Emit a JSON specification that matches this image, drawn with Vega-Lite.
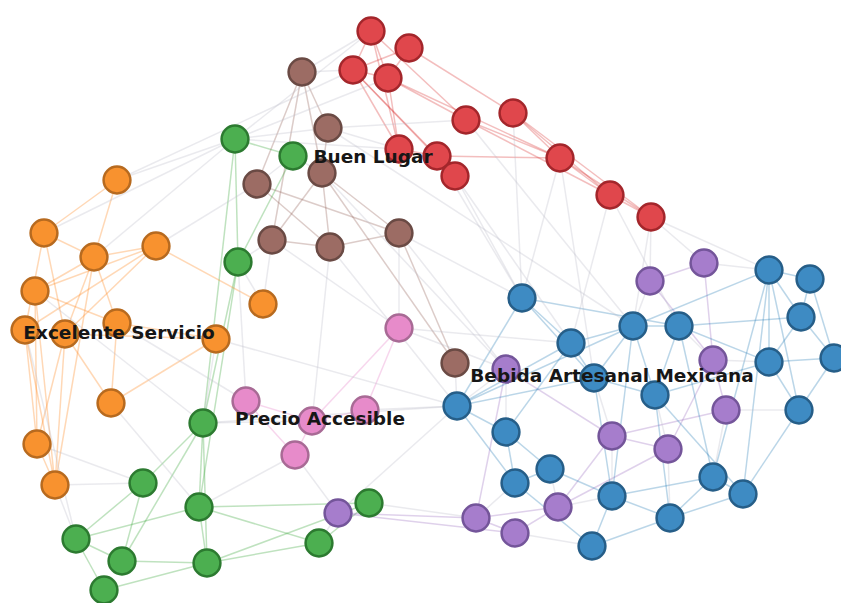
{
  "$schema": "https://vega.github.io/schema/vega-lite/v6.json",
  "autosize": {"type": "none"},
  "width": 841,
  "height": 603,
  "padding": 0,
  "background": "white",
  "config": {"view": {"stroke": null}},
  "datasets": {
    "nodes": [
      {"id": "r1", "g": "r", "x": 371, "y": 31},
      {"id": "r2", "g": "r", "x": 409, "y": 48},
      {"id": "r3", "g": "r", "x": 353, "y": 70},
      {"id": "r4", "g": "r", "x": 388, "y": 78},
      {"id": "r5", "g": "r", "x": 466, "y": 120},
      {"id": "r6", "g": "r", "x": 513, "y": 113},
      {"id": "r7", "g": "r", "x": 437, "y": 156},
      {"id": "r8", "g": "r", "x": 455, "y": 176},
      {"id": "r9", "g": "r", "x": 399, "y": 149},
      {"id": "r10", "g": "r", "x": 560, "y": 158},
      {"id": "r11", "g": "r", "x": 610, "y": 195},
      {"id": "r12", "g": "r", "x": 651, "y": 217},
      {"id": "b1", "g": "b", "x": 302, "y": 72},
      {"id": "b2", "g": "b", "x": 328, "y": 128},
      {"id": "b3", "g": "b", "x": 322, "y": 173},
      {"id": "b4", "g": "b", "x": 257, "y": 184},
      {"id": "b5", "g": "b", "x": 272, "y": 240},
      {"id": "b6", "g": "b", "x": 330, "y": 247},
      {"id": "b7", "g": "b", "x": 399, "y": 233},
      {"id": "b8", "g": "b", "x": 455, "y": 363},
      {"id": "g1", "g": "g", "x": 235, "y": 139},
      {"id": "g2", "g": "g", "x": 293, "y": 156},
      {"id": "g3", "g": "g", "x": 238, "y": 262},
      {"id": "g4", "g": "g", "x": 203, "y": 423},
      {"id": "g5", "g": "g", "x": 143, "y": 483},
      {"id": "g6", "g": "g", "x": 199, "y": 507},
      {"id": "g7", "g": "g", "x": 76, "y": 539},
      {"id": "g8", "g": "g", "x": 122, "y": 561},
      {"id": "g9", "g": "g", "x": 207, "y": 563},
      {"id": "g10", "g": "g", "x": 104, "y": 590},
      {"id": "g11", "g": "g", "x": 319, "y": 543},
      {"id": "g12", "g": "g", "x": 369, "y": 503},
      {"id": "o1", "g": "o", "x": 117, "y": 180},
      {"id": "o2", "g": "o", "x": 44, "y": 233},
      {"id": "o3", "g": "o", "x": 94, "y": 257},
      {"id": "o4", "g": "o", "x": 156, "y": 246},
      {"id": "o5", "g": "o", "x": 35, "y": 291},
      {"id": "o6", "g": "o", "x": 263, "y": 304},
      {"id": "o7", "g": "o", "x": 117, "y": 323},
      {"id": "o8", "g": "o", "x": 25, "y": 330},
      {"id": "o9", "g": "o", "x": 65, "y": 334},
      {"id": "o10", "g": "o", "x": 216, "y": 339},
      {"id": "o11", "g": "o", "x": 111, "y": 403},
      {"id": "o12", "g": "o", "x": 37, "y": 444},
      {"id": "o13", "g": "o", "x": 55, "y": 485},
      {"id": "p1", "g": "p", "x": 399, "y": 328},
      {"id": "p2", "g": "p", "x": 246, "y": 401},
      {"id": "p3", "g": "p", "x": 312, "y": 421},
      {"id": "p4", "g": "p", "x": 365, "y": 410},
      {"id": "p5", "g": "p", "x": 295, "y": 455},
      {"id": "u1", "g": "u", "x": 650, "y": 281},
      {"id": "u2", "g": "u", "x": 704, "y": 263},
      {"id": "u3", "g": "u", "x": 506, "y": 369},
      {"id": "u4", "g": "u", "x": 713, "y": 360},
      {"id": "u5", "g": "u", "x": 726, "y": 410},
      {"id": "u6", "g": "u", "x": 612, "y": 436},
      {"id": "u7", "g": "u", "x": 668, "y": 449},
      {"id": "u8", "g": "u", "x": 558, "y": 507},
      {"id": "u9", "g": "u", "x": 476, "y": 518},
      {"id": "u10", "g": "u", "x": 515, "y": 533},
      {"id": "u11", "g": "u", "x": 338, "y": 513},
      {"id": "l1", "g": "l", "x": 522, "y": 298},
      {"id": "l2", "g": "l", "x": 769, "y": 270},
      {"id": "l3", "g": "l", "x": 810, "y": 279},
      {"id": "l4", "g": "l", "x": 633, "y": 326},
      {"id": "l5", "g": "l", "x": 679, "y": 326},
      {"id": "l6", "g": "l", "x": 801, "y": 317},
      {"id": "l7", "g": "l", "x": 571, "y": 343},
      {"id": "l8", "g": "l", "x": 769, "y": 362},
      {"id": "l9", "g": "l", "x": 834, "y": 358},
      {"id": "l10", "g": "l", "x": 594, "y": 378},
      {"id": "l11", "g": "l", "x": 655, "y": 395},
      {"id": "l12", "g": "l", "x": 457, "y": 406},
      {"id": "l13", "g": "l", "x": 799, "y": 410},
      {"id": "l14", "g": "l", "x": 506, "y": 432},
      {"id": "l15", "g": "l", "x": 550, "y": 469},
      {"id": "l16", "g": "l", "x": 515, "y": 483},
      {"id": "l17", "g": "l", "x": 612, "y": 496},
      {"id": "l18", "g": "l", "x": 713, "y": 477},
      {"id": "l19", "g": "l", "x": 743, "y": 494},
      {"id": "l20", "g": "l", "x": 670, "y": 518},
      {"id": "l21", "g": "l", "x": 592, "y": 546}
    ],
    "edges": [
      {"s": "r1", "t": "r3", "g": "r"}, {"s": "r1", "t": "r4", "g": "r"}, {"s": "r1", "t": "r9", "g": "r"}, {"s": "r1", "t": "r5", "g": "r"},
      {"s": "r2", "t": "r4", "g": "r"}, {"s": "r2", "t": "r6", "g": "r"}, {"s": "r2", "t": "r3", "g": "r"}, {"s": "r3", "t": "r4", "g": "r"},
      {"s": "r3", "t": "r8", "g": "r"}, {"s": "r3", "t": "r7", "g": "r"}, {"s": "r4", "t": "r9", "g": "r"}, {"s": "r4", "t": "r5", "g": "r"},
      {"s": "r4", "t": "r10", "g": "r"}, {"s": "r5", "t": "r10", "g": "r"}, {"s": "r5", "t": "r11", "g": "r"}, {"s": "r6", "t": "r10", "g": "r"},
      {"s": "r6", "t": "r11", "g": "r"}, {"s": "r6", "t": "r12", "g": "r"}, {"s": "r7", "t": "r10", "g": "r"}, {"s": "r9", "t": "r7", "g": "r"},
      {"s": "r10", "t": "r11", "g": "r"}, {"s": "r10", "t": "r12", "g": "r"}, {"s": "r11", "t": "r12", "g": "r"}, {"s": "r3", "t": "r9", "g": "r"},
      {"s": "b1", "t": "b2", "g": "b"}, {"s": "b1", "t": "b4", "g": "b"}, {"s": "b1", "t": "b3", "g": "b"}, {"s": "b2", "t": "b3", "g": "b"},
      {"s": "b3", "t": "b6", "g": "b"}, {"s": "b3", "t": "b7", "g": "b"}, {"s": "b4", "t": "b6", "g": "b"}, {"s": "b4", "t": "b7", "g": "b"},
      {"s": "b5", "t": "b6", "g": "b"}, {"s": "b6", "t": "b7", "g": "b"}, {"s": "b5", "t": "b3", "g": "b"}, {"s": "b3", "t": "b8", "g": "b"},
      {"s": "b7", "t": "b8", "g": "b"}, {"s": "b1", "t": "b5", "g": "b"},
      {"s": "g1", "t": "g2", "g": "g"}, {"s": "g1", "t": "g3", "g": "g"}, {"s": "g1", "t": "g4", "g": "g"}, {"s": "g2", "t": "g3", "g": "g"},
      {"s": "g3", "t": "g4", "g": "g"}, {"s": "g3", "t": "g6", "g": "g"}, {"s": "g4", "t": "g5", "g": "g"}, {"s": "g4", "t": "g6", "g": "g"},
      {"s": "g4", "t": "g8", "g": "g"}, {"s": "g5", "t": "g7", "g": "g"}, {"s": "g5", "t": "g8", "g": "g"}, {"s": "g6", "t": "g9", "g": "g"},
      {"s": "g6", "t": "g11", "g": "g"}, {"s": "g6", "t": "g12", "g": "g"}, {"s": "g6", "t": "g7", "g": "g"}, {"s": "g7", "t": "g8", "g": "g"},
      {"s": "g7", "t": "g10", "g": "g"}, {"s": "g8", "t": "g9", "g": "g"}, {"s": "g9", "t": "g12", "g": "g"}, {"s": "g9", "t": "g11", "g": "g"},
      {"s": "g10", "t": "g9", "g": "g"}, {"s": "g11", "t": "g12", "g": "g"}, {"s": "g4", "t": "g9", "g": "g"},
      {"s": "o1", "t": "o2", "g": "o"}, {"s": "o1", "t": "o3", "g": "o"}, {"s": "o2", "t": "o3", "g": "o"}, {"s": "o2", "t": "o8", "g": "o"},
      {"s": "o2", "t": "o9", "g": "o"}, {"s": "o3", "t": "o5", "g": "o"}, {"s": "o3", "t": "o4", "g": "o"}, {"s": "o3", "t": "o7", "g": "o"},
      {"s": "o3", "t": "o9", "g": "o"}, {"s": "o4", "t": "o5", "g": "o"}, {"s": "o4", "t": "o9", "g": "o"}, {"s": "o4", "t": "o6", "g": "o"},
      {"s": "o5", "t": "o7", "g": "o"}, {"s": "o5", "t": "o12", "g": "o"}, {"s": "o5", "t": "o13", "g": "o"}, {"s": "o8", "t": "o12", "g": "o"},
      {"s": "o8", "t": "o13", "g": "o"}, {"s": "o9", "t": "o13", "g": "o"}, {"s": "o9", "t": "o12", "g": "o"}, {"s": "o7", "t": "o11", "g": "o"},
      {"s": "o9", "t": "o10", "g": "o"}, {"s": "o10", "t": "o11", "g": "o"}, {"s": "o7", "t": "o10", "g": "o"}, {"s": "o12", "t": "o13", "g": "o"},
      {"s": "o3", "t": "o13", "g": "o"}, {"s": "o9", "t": "o11", "g": "o"}, {"s": "o4", "t": "o8", "g": "o"},
      {"s": "p1", "t": "p3", "g": "p"}, {"s": "p1", "t": "p4", "g": "p"}, {"s": "p2", "t": "p3", "g": "p"}, {"s": "p3", "t": "p5", "g": "p"},
      {"s": "p2", "t": "p5", "g": "p"}, {"s": "p4", "t": "p3", "g": "p"},
      {"s": "u1", "t": "u2", "g": "u"}, {"s": "u2", "t": "u4", "g": "u"}, {"s": "u1", "t": "u4", "g": "u"}, {"s": "u3", "t": "u6", "g": "u"},
      {"s": "u4", "t": "u7", "g": "u"}, {"s": "u5", "t": "u6", "g": "u"}, {"s": "u6", "t": "u8", "g": "u"}, {"s": "u8", "t": "u9", "g": "u"},
      {"s": "u8", "t": "u10", "g": "u"}, {"s": "u9", "t": "u11", "g": "u"}, {"s": "u10", "t": "u11", "g": "u"}, {"s": "u9", "t": "u10", "g": "u"},
      {"s": "u3", "t": "u9", "g": "u"}, {"s": "u7", "t": "u8", "g": "u"}, {"s": "u6", "t": "u7", "g": "u"}, {"s": "u5", "t": "u4", "g": "u"},
      {"s": "l1", "t": "l7", "g": "l"}, {"s": "l1", "t": "l12", "g": "l"}, {"s": "l1", "t": "l10", "g": "l"}, {"s": "l2", "t": "l3", "g": "l"},
      {"s": "l2", "t": "l6", "g": "l"}, {"s": "l2", "t": "l8", "g": "l"}, {"s": "l2", "t": "l4", "g": "l"}, {"s": "l2", "t": "l13", "g": "l"},
      {"s": "l2", "t": "l18", "g": "l"}, {"s": "l2", "t": "l19", "g": "l"}, {"s": "l3", "t": "l6", "g": "l"}, {"s": "l3", "t": "l9", "g": "l"},
      {"s": "l4", "t": "l5", "g": "l"}, {"s": "l4", "t": "l7", "g": "l"}, {"s": "l4", "t": "l10", "g": "l"}, {"s": "l4", "t": "l11", "g": "l"},
      {"s": "l4", "t": "l17", "g": "l"}, {"s": "l5", "t": "l6", "g": "l"}, {"s": "l5", "t": "l11", "g": "l"}, {"s": "l5", "t": "l18", "g": "l"},
      {"s": "l6", "t": "l8", "g": "l"}, {"s": "l6", "t": "l9", "g": "l"}, {"s": "l7", "t": "l10", "g": "l"}, {"s": "l7", "t": "l12", "g": "l"},
      {"s": "l7", "t": "l14", "g": "l"}, {"s": "l8", "t": "l9", "g": "l"}, {"s": "l8", "t": "l13", "g": "l"}, {"s": "l8", "t": "l5", "g": "l"},
      {"s": "l10", "t": "l11", "g": "l"}, {"s": "l10", "t": "l17", "g": "l"}, {"s": "l11", "t": "l20", "g": "l"}, {"s": "l11", "t": "l19", "g": "l"},
      {"s": "l12", "t": "l14", "g": "l"}, {"s": "l12", "t": "l16", "g": "l"}, {"s": "l12", "t": "l10", "g": "l"}, {"s": "l13", "t": "l19", "g": "l"},
      {"s": "l14", "t": "l15", "g": "l"}, {"s": "l14", "t": "l16", "g": "l"}, {"s": "l15", "t": "l17", "g": "l"}, {"s": "l16", "t": "l21", "g": "l"},
      {"s": "l17", "t": "l20", "g": "l"}, {"s": "l17", "t": "l21", "g": "l"}, {"s": "l18", "t": "l20", "g": "l"}, {"s": "l19", "t": "l20", "g": "l"},
      {"s": "l20", "t": "l21", "g": "l"}, {"s": "l18", "t": "l19", "g": "l"}, {"s": "l12", "t": "l4", "g": "l"}, {"s": "l1", "t": "l5", "g": "l"},
      {"s": "l13", "t": "l9", "g": "l"}, {"s": "l15", "t": "l16", "g": "l"}, {"s": "l17", "t": "l18", "g": "l"}, {"s": "l8", "t": "l11", "g": "l"},
      {"s": "o1", "t": "g1", "g": "x"}, {"s": "o1", "t": "r3", "g": "x"}, {"s": "g1", "t": "r1", "g": "x"}, {"s": "g1", "t": "r4", "g": "x"},
      {"s": "b2", "t": "r5", "g": "x"}, {"s": "b4", "t": "o4", "g": "x"}, {"s": "o6", "t": "g3", "g": "x"}, {"s": "o6", "t": "b5", "g": "x"},
      {"s": "o10", "t": "g4", "g": "x"}, {"s": "o10", "t": "l12", "g": "x"}, {"s": "o11", "t": "g6", "g": "x"}, {"s": "o12", "t": "g5", "g": "x"},
      {"s": "o13", "t": "g7", "g": "x"}, {"s": "o13", "t": "g5", "g": "x"}, {"s": "p1", "t": "l7", "g": "x"}, {"s": "p1", "t": "b7", "g": "x"},
      {"s": "p1", "t": "u3", "g": "x"}, {"s": "p2", "t": "g3", "g": "x"}, {"s": "p3", "t": "g4", "g": "x"}, {"s": "p4", "t": "l12", "g": "x"},
      {"s": "p5", "t": "g6", "g": "x"}, {"s": "p3", "t": "b6", "g": "x"}, {"s": "u11", "t": "l12", "g": "x"}, {"s": "u11", "t": "g11", "g": "x"},
      {"s": "b8", "t": "l12", "g": "x"}, {"s": "r7", "t": "l1", "g": "x"}, {"s": "r8", "t": "l1", "g": "x"}, {"s": "r8", "t": "l7", "g": "x"},
      {"s": "r12", "t": "u1", "g": "x"}, {"s": "r12", "t": "l2", "g": "x"}, {"s": "r12", "t": "u2", "g": "x"}, {"s": "r12", "t": "l4", "g": "x"},
      {"s": "r11", "t": "l5", "g": "x"}, {"s": "r6", "t": "l1", "g": "x"}, {"s": "r5", "t": "l4", "g": "x"}, {"s": "b7", "t": "u3", "g": "x"},
      {"s": "b2", "t": "l4", "g": "x"}, {"s": "g12", "t": "u9", "g": "x"}, {"s": "p5", "t": "u11", "g": "x"}, {"s": "o7", "t": "p2", "g": "x"},
      {"s": "g2", "t": "b3", "g": "x"}, {"s": "g2", "t": "b4", "g": "x"}, {"s": "g3", "t": "b5", "g": "x"}, {"s": "g1", "t": "b2", "g": "x"},
      {"s": "o2", "t": "g1", "g": "x"}, {"s": "o5", "t": "g4", "g": "x"}, {"s": "o8", "t": "g7", "g": "x"}, {"s": "b6", "t": "l12", "g": "x"},
      {"s": "b5", "t": "p1", "g": "x"}, {"s": "r9", "t": "b2", "g": "x"}, {"s": "r3", "t": "b1", "g": "x"}, {"s": "r1", "t": "b1", "g": "x"},
      {"s": "g1", "t": "r9", "g": "x"}, {"s": "o3", "t": "g1", "g": "x"}, {"s": "b3", "t": "u3", "g": "x"}, {"s": "g4", "t": "l12", "g": "x"},
      {"s": "u9", "t": "l16", "g": "x"}, {"s": "u10", "t": "l21", "g": "x"}, {"s": "u3", "t": "l12", "g": "x"}, {"s": "u3", "t": "l14", "g": "x"},
      {"s": "u6", "t": "l10", "g": "x"}, {"s": "u6", "t": "l17", "g": "x"}, {"s": "u7", "t": "l11", "g": "x"}, {"s": "u7", "t": "l20", "g": "x"},
      {"s": "u4", "t": "l8", "g": "x"}, {"s": "u4", "t": "l5", "g": "x"}, {"s": "u5", "t": "l13", "g": "x"}, {"s": "u5", "t": "l18", "g": "x"},
      {"s": "u2", "t": "l2", "g": "x"}, {"s": "u1", "t": "l4", "g": "x"}, {"s": "u8", "t": "l15", "g": "x"}, {"s": "u8", "t": "l17", "g": "x"},
      {"s": "r10", "t": "l1", "g": "x"}, {"s": "r10", "t": "l10", "g": "x"}, {"s": "r11", "t": "l7", "g": "x"}, {"s": "b7", "t": "l1", "g": "x"}
    ],
    "labels": [
      {"x": 373, "y": 157, "text": "Buen Lugar"},
      {"x": 119, "y": 333, "text": "Excelente Servicio"},
      {"x": 320, "y": 419, "text": "Precio Accesible"},
      {"x": 612, "y": 376, "text": "Bebida Artesanal Mexicana"}
    ]
  },
  "layer": [
    {
      "data": {"name": "edges"},
      "transform": [
        {"lookup": "s", "from": {"data": {"name": "nodes"}, "key": "id", "fields": ["x", "y"]}, "as": ["sx", "sy"]},
        {"lookup": "t", "from": {"data": {"name": "nodes"}, "key": "id", "fields": ["x", "y"]}, "as": ["tx", "ty"]}
      ],
      "mark": {"type": "rule", "strokeWidth": 1.5, "opacity": 0.3},
      "encoding": {
        "x": {"field": "sx", "type": "quantitative", "scale": {"domain": [0, 841], "nice": false, "zero": false}, "axis": null},
        "y": {"field": "sy", "type": "quantitative", "scale": {"domain": [0, 603], "nice": false, "zero": false, "reverse": true}, "axis": null},
        "x2": {"field": "tx"},
        "y2": {"field": "ty"},
        "color": {"field": "g", "type": "nominal", "legend": null,
          "scale": {"domain": ["r", "b", "g", "o", "p", "u", "l", "x"],
                    "range": ["#d62728", "#8c564b", "#2ca02c", "#ff7f0e", "#e377c2", "#9467bd", "#1f77b4", "#b8b8c8"]}}
      }
    },
    {
      "data": {"name": "nodes"},
      "mark": {"type": "point", "shape": "circle", "filled": true, "opacity": 1, "strokeWidth": 2.5, "size": 720},
      "encoding": {
        "x": {"field": "x", "type": "quantitative"},
        "y": {"field": "y", "type": "quantitative"},
        "fill": {"field": "g", "type": "nominal", "legend": null,
          "scale": {"domain": ["r", "b", "g", "o", "p", "u", "l"],
                    "range": ["#e0474c", "#9c6c64", "#4caf50", "#f8922f", "#e78bca", "#a67dcc", "#3e8bc3"]}},
        "stroke": {"field": "g", "type": "nominal", "legend": null,
          "scale": {"domain": ["r", "b", "g", "o", "p", "u", "l"],
                    "range": ["#a3262b", "#6a4a44", "#2c7a30", "#b76a1f", "#a86a95", "#74559a", "#265e88"]}}
      }
    },
    {
      "data": {"name": "labels"},
      "mark": {"type": "text", "font": "DejaVu Sans", "fontWeight": "bold", "fontSize": 18.5, "color": "#161616", "align": "center", "baseline": "middle"},
      "encoding": {
        "x": {"field": "x", "type": "quantitative"},
        "y": {"field": "y", "type": "quantitative"},
        "text": {"field": "text"}
      }
    }
  ]
}
